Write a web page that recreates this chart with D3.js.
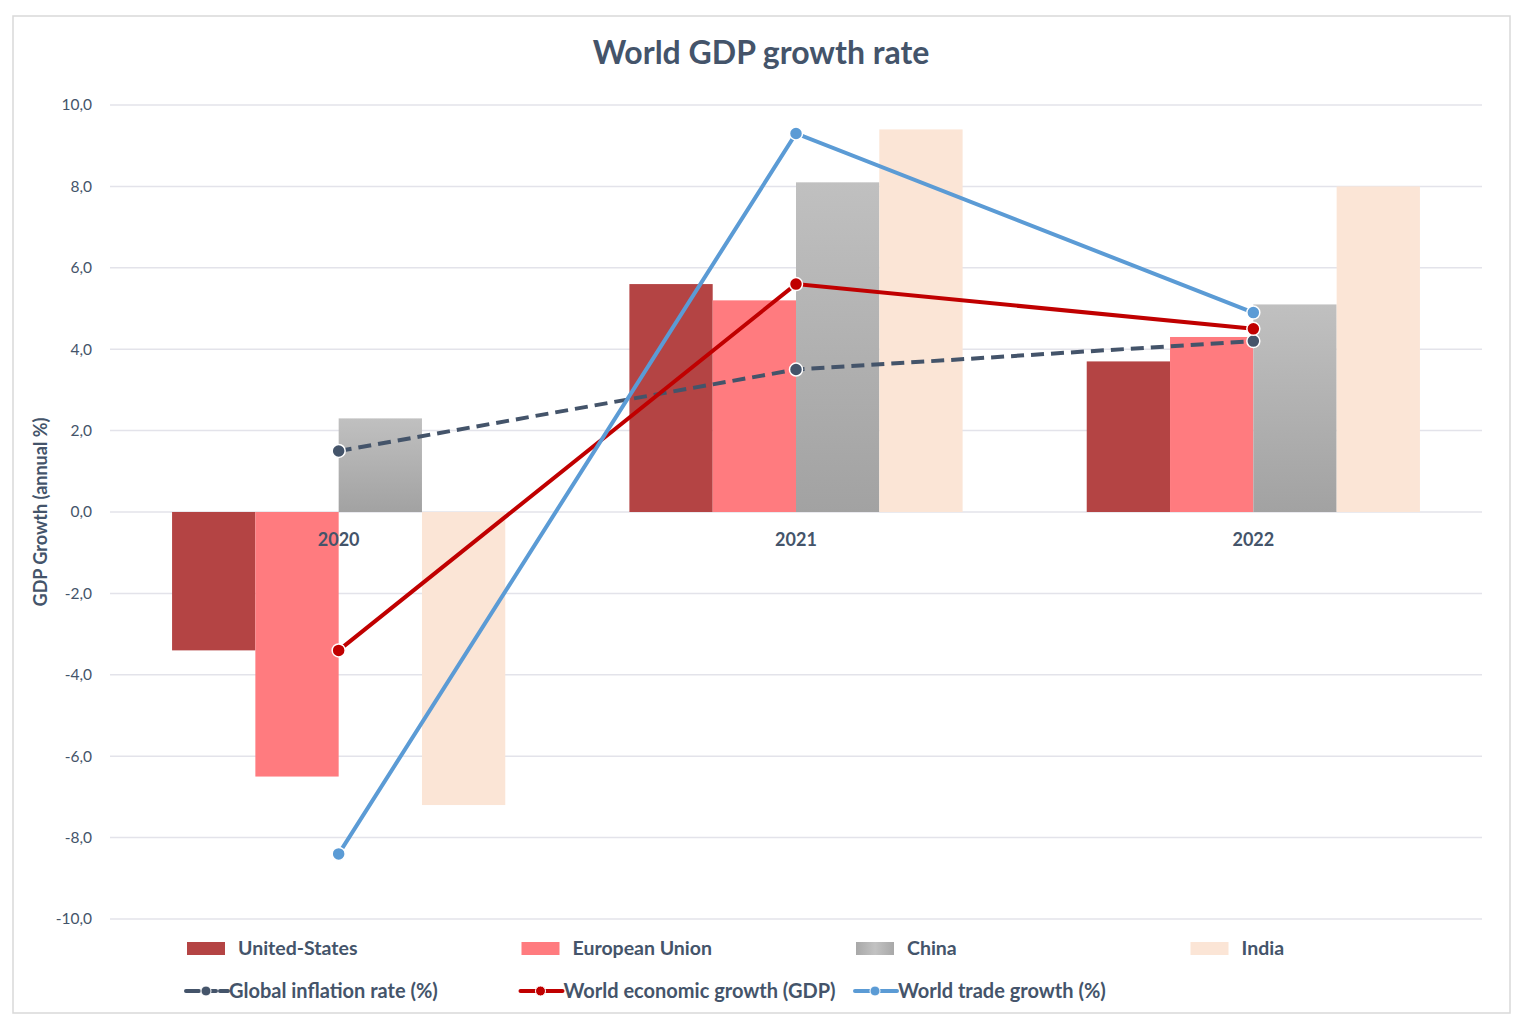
<!DOCTYPE html>
<html><head><meta charset="utf-8">
<script src="https://cdn.jsdelivr.net/npm/d3@7"></script>
<style>
html,body{margin:0;padding:0;background:#fff;}
text{font-family:Lato,"Open Sans",sans-serif;}
</style></head>
<body>
<svg id="chart" width="1532" height="1030"></svg>
<script>
const years = ["2020","2021","2022"];
const barSeries = ["United-States","European Union","China","India"];
const usValues = [-3.4, 5.6, 3.7];
const euValues = [-6.5, 5.2, 4.3];
const chinaValues = [2.3, 8.1, 5.1];
const indiaValues = [-7.2, 9.4, 8.0];
const lineSeries = ["Global inflation rate (%)","World economic growth (GDP)","World trade growth (%)"];
const inflationValues = [1.5, 3.5, 4.2];
const gdpValues = [-3.4, 5.6, 4.5];
const tradeValues = [-8.4, 9.3, 4.9];
const yTicks = [-10,-8,-6,-4,-2,0,2,4,6,8,10];

const barData = [usValues, euValues, chinaValues, indiaValues];
const lineData = [inflationValues, gdpValues, tradeValues];
const barColors = ["#B44444","#FF7B7F","url(#grayGrad)","#FBE5D6"];
const lineColors = ["#44546A","#C00000","#5B9BD5"];

const svg = d3.select("#chart");
const defs = svg.append("defs");
const g1 = defs.append("linearGradient").attr("id","grayGrad").attr("x1",0).attr("y1",0).attr("x2",0).attr("y2",1);
g1.append("stop").attr("offset","0%").attr("stop-color","#C0C0C0");
g1.append("stop").attr("offset","100%").attr("stop-color","#A2A2A2");
const g2 = defs.append("linearGradient").attr("id","grayGradL").attr("x1",0).attr("y1",0).attr("x2",1).attr("y2",0);
g2.append("stop").attr("offset","0%").attr("stop-color","#A8A8A8");
g2.append("stop").attr("offset","50%").attr("stop-color","#C2C2C2");
g2.append("stop").attr("offset","100%").attr("stop-color","#A8A8A8");

svg.append("rect").attr("x",13).attr("y",16).attr("width",1497).attr("height",997)
  .attr("fill","#fff").attr("stroke","#D9D9D9").attr("stroke-width",1.5);

const pLeft = 110, pRight = 1482, pTop = 105, pBottom = 919;
const x = d3.scaleBand().domain(years).range([pLeft, pRight]);
const xInner = d3.scaleBand().domain(barSeries).range([0, x.bandwidth()]).paddingOuter(0.745);
const y = d3.scaleLinear().domain([-10, 10]).range([pBottom, pTop]);

// title
svg.append("text").attr("x", 761).attr("y", 64).attr("text-anchor","middle")
  .attr("font-size",32).attr("font-weight","bold").attr("fill","#44546A").text("World GDP growth rate");

// grid
svg.append("g").selectAll("line").data(yTicks).join("line")
  .attr("x1",pLeft).attr("x2",pRight).attr("y1",d=>y(d)).attr("y2",d=>y(d))
  .attr("stroke","#E3E3EA").attr("stroke-width",1.5);

// y axis labels
const yAxis = d3.axisLeft(y).tickValues(yTicks).tickSize(0).tickPadding(18)
  .tickFormat(d => d3.format(".1f")(d).replace(".", ",").replace("−","-"));
const ya = svg.append("g").attr("transform",`translate(${pLeft},0)`).call(yAxis);
ya.select(".domain").remove();
ya.selectAll("text").attr("font-size",15.5).attr("fill","#44546A").attr("font-family","Lato,'Open Sans',sans-serif");

svg.append("text").attr("transform",`translate(47,${y(0)}) rotate(-90)`).attr("text-anchor","middle")
  .attr("font-size",18).attr("font-weight","bold").attr("fill","#44546A").text("GDP Growth (annual %)");

// bars
const bars = svg.append("g");
barData.forEach((vals, si) => {
  bars.selectAll(null).data(vals.map((v,i)=>({v, year: years[i]}))).join("rect")
    .attr("x", d => x(d.year) + xInner(barSeries[si]))
    .attr("width", xInner.bandwidth())
    .attr("y", d => y(Math.max(0, d.v)))
    .attr("height", d => Math.abs(y(d.v) - y(0)))
    .attr("fill", barColors[si]);
});

// category labels
svg.append("g").selectAll("text").data(years).join("text")
  .attr("x", d => x(d) + x.bandwidth()/2).attr("y", y(0) + 34).attr("text-anchor","middle")
  .attr("font-size",18).attr("font-weight","bold").attr("fill","#44546A").text(d=>d);

// lines
const line = d3.line().x((d,i)=> x(years[i]) + x.bandwidth()/2).y(d=>y(d));
lineData.forEach((vals, li) => {
  svg.append("path").datum(vals).attr("d", line).attr("fill","none")
    .attr("stroke", lineColors[li]).attr("stroke-width",4)
    .attr("stroke-dasharray", li===0 ? "13,7" : null);
});
lineData.forEach((vals, li) => {
  svg.append("g").selectAll("circle").data(vals).join("circle")
    .attr("cx",(d,i)=> x(years[i]) + x.bandwidth()/2).attr("cy", d=>y(d)).attr("r",6.5)
    .attr("fill", lineColors[li]).attr("stroke","#fff").attr("stroke-width",1.5);
});

// legend
const legX0 = 187, legDX = 334.5;
const leg1 = svg.append("g");
barSeries.forEach((s, i) => {
  const gx = legX0 + i*legDX;
  leg1.append("rect").attr("x", gx).attr("y", 942).attr("width", 38).attr("height", 13)
    .attr("fill", i===2 ? "url(#grayGradL)" : barColors[i]);
  leg1.append("text").attr("x", gx + 51).attr("y", 955).attr("font-size",19.5).attr("font-weight","bold")
    .attr("fill","#44546A").text(s);
});
lineSeries.forEach((s, i) => {
  const gx = legX0 - 1 + i*legDX;
  leg1.append("line").attr("x1", gx).attr("x2", gx+42).attr("y1", 991).attr("y2", 991)
    .attr("stroke", lineColors[i]).attr("stroke-width",4).attr("stroke-linecap","round")
    .attr("stroke-dasharray", i===0 ? "13,4" : null);
  leg1.append("circle").attr("cx", gx+20).attr("cy", 991).attr("r",5)
    .attr("fill", lineColors[i]).attr("stroke","#fff").attr("stroke-width",1);
  leg1.append("text").attr("x", gx + 43).attr("y", 998).attr("font-size",20).attr("font-weight","bold")
    .attr("fill","#44546A").text(s);
});
</script>
</body></html>
